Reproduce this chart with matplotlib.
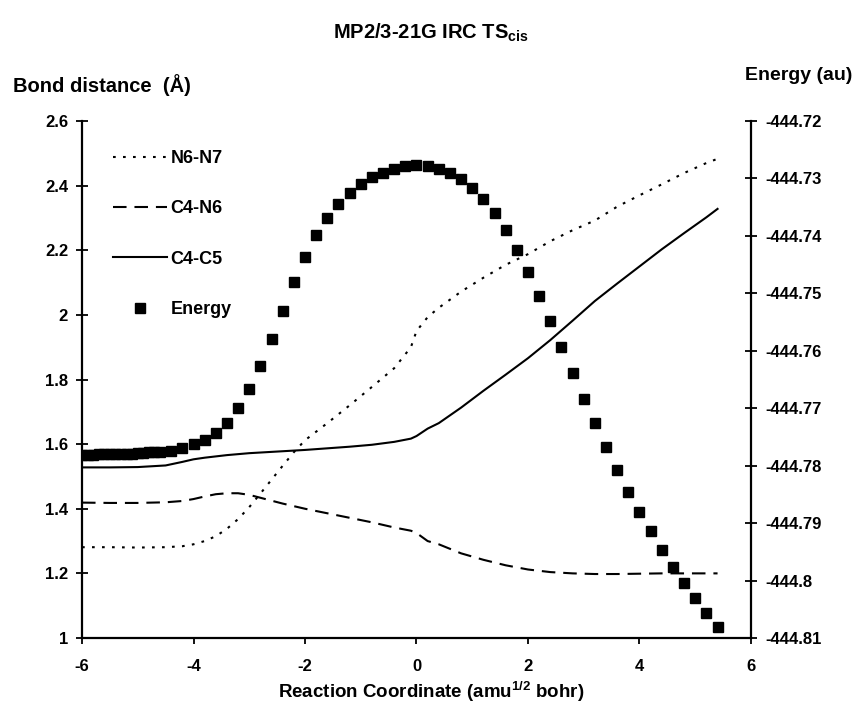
import matplotlib
matplotlib.use('Agg')
import matplotlib.pyplot as plt

plt.rcParams['font.family'] = ['Liberation Sans', 'DejaVu Sans']
plt.rcParams['font.weight'] = 'bold'
plt.rcParams['mathtext.fontset'] = 'custom'
plt.rcParams['mathtext.rm'] = 'Liberation Sans:bold'
plt.rcParams['mathtext.bf'] = 'Liberation Sans:bold'
plt.rcParams['mathtext.it'] = 'Liberation Sans:bold'
plt.rcParams['mathtext.default'] = 'rm'

# ---------------- data ----------------
x_bond = [-6.0, -5.5, -5.0, -4.5, -4.2, -4.0, -3.8, -3.6, -3.4, -3.2, -3.0, -2.8,
          -2.6, -2.4, -2.2, -2.0, -1.6, -1.2, -0.8, -0.4, -0.1, 0.0, 0.2, 0.4,
          0.8, 1.2, 1.6, 2.0, 2.4, 2.8, 3.2, 3.6, 4.0, 4.4, 4.8, 5.2, 5.4]

n6_n7 = [1.281, 1.281, 1.280, 1.281, 1.284, 1.290, 1.300, 1.315, 1.338, 1.368, 1.405, 1.447,
         1.490, 1.533, 1.575, 1.612, 1.665, 1.720, 1.777, 1.835, 1.900, 1.950, 1.993, 2.022,
         2.072, 2.115, 2.155, 2.188, 2.228, 2.262, 2.292, 2.335, 2.370, 2.404, 2.439, 2.470, 2.483]

c4_n6 = [1.419, 1.418, 1.418, 1.420, 1.424, 1.430, 1.438, 1.445, 1.448, 1.448, 1.443, 1.434,
         1.425, 1.416, 1.408, 1.400, 1.386, 1.372, 1.358, 1.342, 1.332, 1.325, 1.300, 1.290,
         1.262, 1.242, 1.225, 1.212, 1.204, 1.200, 1.198, 1.198, 1.199, 1.200, 1.200, 1.200, 1.200]

c4_c5 = [1.528, 1.528, 1.529, 1.534, 1.545, 1.553, 1.558, 1.562, 1.566, 1.569, 1.572, 1.574,
         1.576, 1.578, 1.580, 1.582, 1.587, 1.592, 1.598, 1.607, 1.617, 1.625, 1.648, 1.665,
         1.713, 1.765, 1.815, 1.866, 1.922, 1.982, 2.043, 2.097, 2.150, 2.203, 2.253, 2.302, 2.328]

x_energy = [-6.0, -5.9, -5.8, -5.7, -5.6, -5.5, -5.4, -5.3, -5.2, -5.1, -5.0, -4.9, -4.8, -4.7, -4.6,
            -4.4, -4.2, -4.0, -3.8, -3.6, -3.4, -3.2, -3.0, -2.8, -2.6, -2.4, -2.2, -2.0,
            -1.8, -1.6, -1.4, -1.2, -1.0, -0.8, -0.6, -0.4, -0.2, 0.0, 0.2, 0.4, 0.6, 0.8,
            1.0, 1.2, 1.4, 1.6, 1.8, 2.0, 2.2, 2.4, 2.6, 2.8, 3.0, 3.2, 3.4, 3.6, 3.8,
            4.0, 4.2, 4.4, 4.6, 4.8, 5.0, 5.2, 5.4]

energy = [-444.7781, -444.7781, -444.7781, -444.7780, -444.7780, -444.7780, -444.7780, -444.7779,
          -444.7779, -444.7779, -444.7778, -444.7778, -444.7777, -444.7777, -444.7776,
          -444.7774, -444.7769, -444.7763, -444.7755, -444.7744, -444.7725, -444.7700, -444.7666,
          -444.7626, -444.7580, -444.7530, -444.7481, -444.7436,
          -444.7399, -444.7369, -444.7344, -444.7325, -444.7310, -444.7297, -444.7290, -444.7284,
          -444.7279, -444.7277, -444.7279, -444.7284, -444.7291, -444.7301,
          -444.7316, -444.7336, -444.7360, -444.7390, -444.7424, -444.7462, -444.7504, -444.7548,
          -444.7593, -444.7638, -444.7684, -444.7726, -444.7768, -444.7808, -444.7846,
          -444.7881, -444.7914, -444.7947, -444.7977, -444.8004, -444.8031, -444.8057, -444.8081]

x_ticks = [-6, -4, -2, 0, 2, 4, 6]
x_tick_labels = ['-6', '-4', '-2', '0', '2', '4', '6']
left_ticks = [1.0, 1.2, 1.4, 1.6, 1.8, 2.0, 2.2, 2.4, 2.6]
left_tick_labels = ['1', '1.2', '1.4', '1.6', '1.8', '2', '2.2', '2.4', '2.6']
right_ticks = [-444.81, -444.80, -444.79, -444.78, -444.77, -444.76, -444.75, -444.74, -444.73, -444.72]
right_tick_labels = ['-444.81', '-444.8', '-444.79', '-444.78', '-444.77', '-444.76',
                     '-444.75', '-444.74', '-444.73', '-444.72']

series_names = ['N6-N7', 'C4-N6', 'C4-C5', 'Energy']

# ---------------- figure ----------------
W, H = 862, 710
fig = plt.figure(figsize=(W / 100, H / 100), dpi=100)
ax = fig.add_axes([82 / W, 1 - 638 / H, 669 / W, 517 / H])
ax2 = ax.twinx()

lw = 1.5
l1, = ax.plot(x_bond, n6_n7, color='black', lw=lw, dashes=(1.3, 3.5), label=series_names[0])
l2, = ax.plot(x_bond, c4_n6, color='black', lw=lw, dashes=(6.5, 3.8), label=series_names[1])
l3, = ax.plot(x_bond, c4_c5, color='black', lw=lw, label=series_names[2])
l4, = ax2.plot(x_energy, energy, ls='none', marker='s', ms=7.8, color='black',
               mec='black', label=series_names[3])

ax.set_xlim(-6, 6)
ax.set_ylim(1, 2.6)
ax2.set_ylim(-444.81, -444.72)

ax.set_xticks(x_ticks)
ax.set_xticklabels(x_tick_labels)
ax.set_yticks(left_ticks)
ax.set_yticklabels(left_tick_labels)
ax2.set_yticks(right_ticks)
ax2.set_yticklabels(right_tick_labels)

fs = 12
for a in (ax, ax2):
    for s in a.spines.values():
        s.set_linewidth(1.6)
        s.set_color('black')
    a.spines['top'].set_visible(False)
ax.spines['right'].set_visible(False)
ax2.spines['left'].set_visible(False)
ax2.spines['bottom'].set_visible(False)

ax.tick_params(axis='x', direction='out', length=4, width=1.3, pad=11, labelsize=fs)
ax.tick_params(axis='y', direction='inout', length=8, width=1.3, pad=6, labelsize=fs)
ax2.tick_params(axis='y', direction='inout', length=9, width=1.3, pad=6, labelsize=fs)
for lab in ax.get_xticklabels() + ax.get_yticklabels() + ax2.get_yticklabels():
    lab.set_fontweight('bold')

leg = ax2.legend(handles=[l1, l2, l3, l4], loc='upper left',
                 bbox_to_anchor=(0.046, 0.944), frameon=False, numpoints=1,
                 handlelength=3.0, handletextpad=0.2, labelspacing=1.85,
                 borderpad=0, borderaxespad=0,
                 prop={'weight': 'bold', 'size': 13})

fig.text(0.5, 1 - 33 / H, r'MP2/3-21G IRC TS$_{\mathregular{cis}}$', ha='center', va='center',
         fontsize=14.5, fontweight='bold')
fig.text(13 / W, 1 - 85 / H, 'Bond distance  (Å)', ha='left', va='center',
         fontsize=14.5, fontweight='bold')
fig.text(745 / W, 1 - 75 / H, 'Energy (au)', ha='left', va='center',
         fontsize=14, fontweight='bold')
fig.text(431 / W, 1 - 692 / H, r'Reaction Coordinate (amu$^{\mathregular{1/2}}$ bohr)',
         ha='center', va='center', fontsize=13.5, fontweight='bold')

fig.savefig('out.png', dpi=100)
